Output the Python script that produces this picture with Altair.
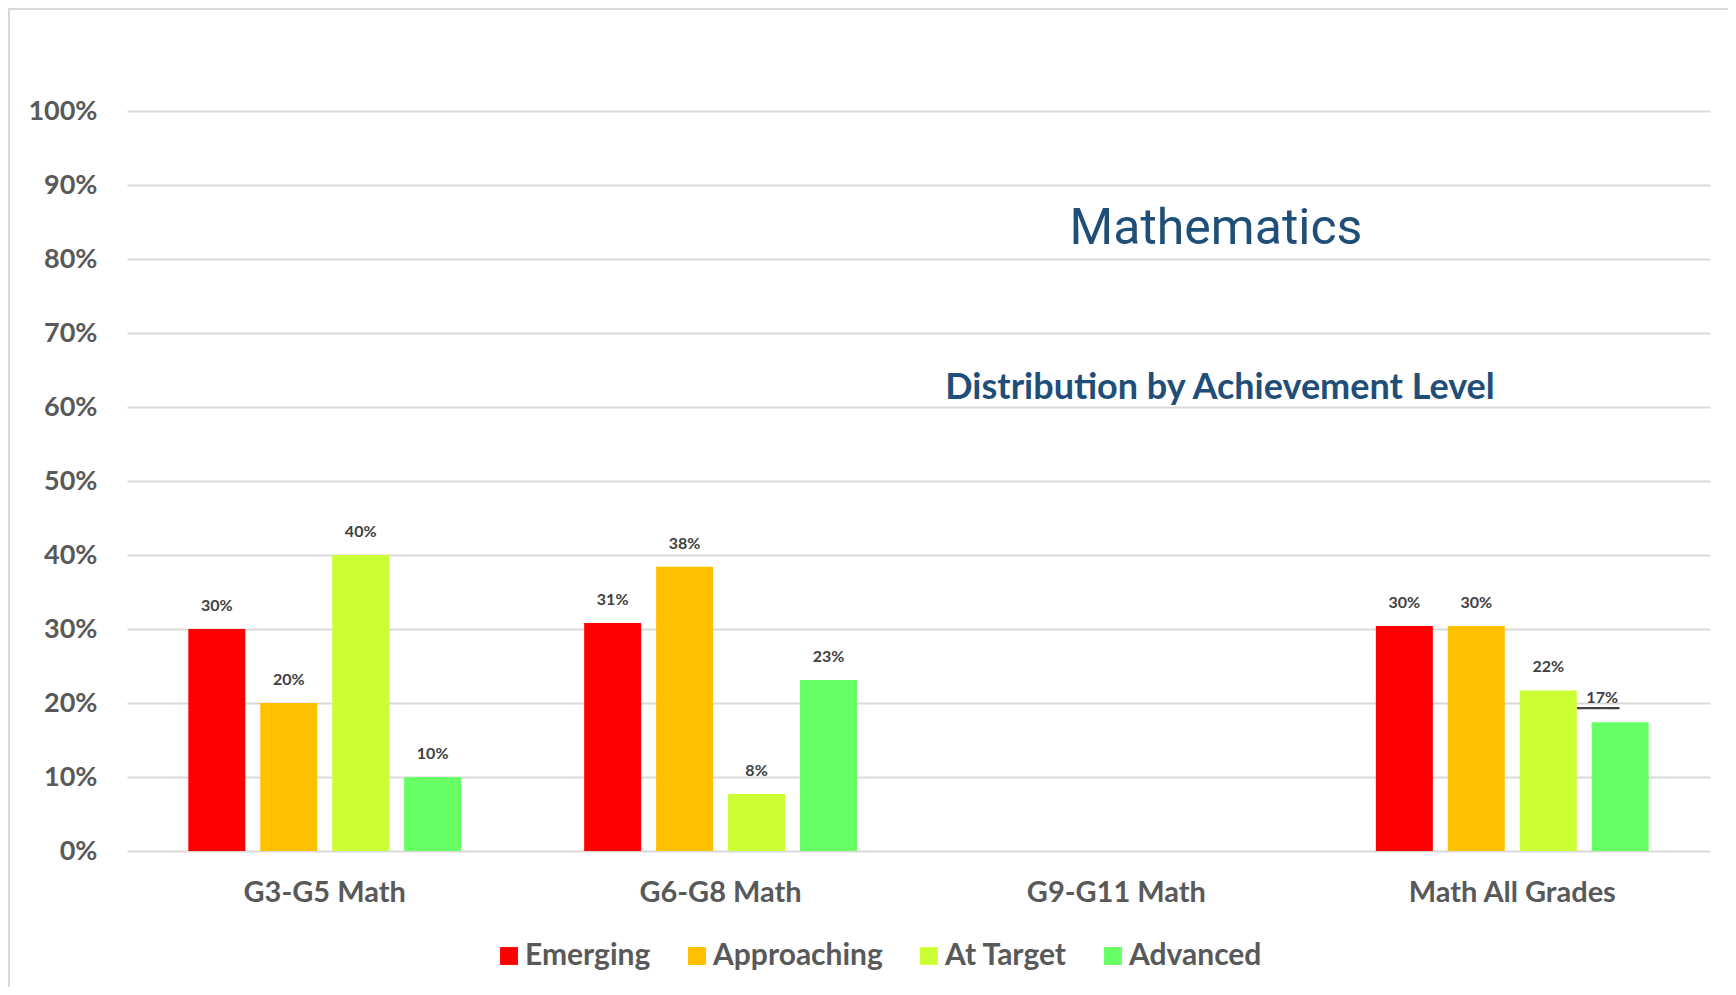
import altair as alt
import pandas as pd

categories = ["G3-G5 Math", "G6-G8 Math", "G9-G11 Math", "Math All Grades"]
levels = ["Emerging", "Approaching", "At Target", "Advanced"]
colors = ["#FF0000", "#FFC000", "#CCFF33", "#66FF66"]

g3_g5 = [0.300, 0.200, 0.400, 0.100]
g6_g8 = [0.308, 0.384, 0.077, 0.231]
all_grades = [0.304, 0.304, 0.217, 0.174]

rows = []
for cat, vals in [("G3-G5 Math", g3_g5), ("G6-G8 Math", g6_g8), ("Math All Grades", all_grades)]:
    for lvl, v in zip(levels, vals):
        rows.append({"cat": cat, "level": lvl, "value": v})
df = pd.DataFrame(rows)

W, H = 1583, 740
FONT = "Lato"
GRAY = "#595959"
BLUE = "#1F4E79"

x = alt.X("cat:N", scale=alt.Scale(domain=categories, paddingInner=0.273, paddingOuter=0.136),
          axis=alt.Axis(title=None, labelFont=FONT, labelFontSize=29, labelFontWeight="bold",
                        labelColor=GRAY, labelPadding=27, ticks=False, domain=False, labelAngle=0,
                        labelLimit=0))
xo = alt.XOffset("level:N", sort=levels, scale=alt.Scale(domain=levels, paddingInner=0.208, paddingOuter=0.104))
y = alt.Y("value:Q", scale=alt.Scale(domain=[0, 1], nice=False),
          axis=alt.Axis(title=None, values=[i / 10 for i in range(11)], format=".0%",
                        labelFont=FONT, labelFontSize=27, labelFontWeight="bold", labelColor=GRAY,
                        labelPadding=30, ticks=False, domain=False,
                        grid=True, gridColor="#D9D9D9", gridWidth=2))

base = alt.Chart(df)

bars = base.mark_bar().encode(
    x=x, xOffset=xo, y=y,
    color=alt.Color("level:N", sort=levels, scale=alt.Scale(domain=levels, range=colors),
                    legend=alt.Legend(title=None, orient="none", legendX=367, legendY=830,
                                      direction="horizontal", symbolType="square", symbolSize=320,
                                      symbolStrokeWidth=0, labelFont=FONT, labelFontSize=30,
                                      labelFontWeight="bold", labelColor=GRAY, columnPadding=31,
                                      labelOffset=1, labelLimit=0)),
)

is_special = (alt.datum.cat == "Math All Grades") & (alt.datum.level == "Advanced")

labels = base.transform_filter(~is_special).mark_text(
    font=FONT, fontSize=16, fontWeight="bold", color="#404040", baseline="alphabetic", dy=-18
).encode(x=x, xOffset=xo, y=y, text=alt.Text("value:Q", format=".0%"))

special_label = base.transform_filter(is_special).mark_text(
    font=FONT, fontSize=16, fontWeight="bold", color="#404040", baseline="alphabetic", dx=-18, dy=-19
).encode(x=x, xOffset=xo, y=y, text=alt.Text("value:Q", format=".0%"))

leader = base.transform_filter(is_special).mark_text(
    font="DejaVu Sans Mono", fontSize=14, color="#404040", baseline="middle", dx=-22, dy=-13,
    text="\u2501\u2501\u2501\u2501\u2501"
).encode(x=x, xOffset=xo, y=y)

ann = pd.DataFrame({"t": ["Mathematics"]})
title1 = alt.Chart(ann).mark_text(font="Roboto", fontSize=50, color=BLUE, baseline="middle",
                                  align="center").encode(
    x=alt.value(1089), y=alt.value(118), text="t:N")

ann2 = pd.DataFrame({"t": ["Distribution by Achievement Level"]})
title2 = alt.Chart(ann2).mark_text(font=FONT, fontSize=36, fontWeight="bold", color=BLUE,
                                   baseline="middle", align="center").encode(
    x=alt.value(1093), y=alt.value(277), text="t:N")

frame = alt.Chart(pd.DataFrame({"a": [0]})).mark_rect(
    fill=None, fillOpacity=0, stroke="#D9D9D9", strokeWidth=2
).encode(x=alt.value(-118), x2=alt.value(W + 100), y=alt.value(-102), y2=alt.value(H + 250))

chart = alt.layer(frame, bars, labels, special_label, leader, title1, title2).properties(
    width=W, height=H,
    background="white",
    autosize=alt.AutoSizeParams(type="none"),
    padding={"left": 119, "top": 103, "right": 18, "bottom": 136},
).configure_view(strokeWidth=0, stroke=None)

chart.save("out.html", embed_options={"renderer": "svg", "actions": False})
